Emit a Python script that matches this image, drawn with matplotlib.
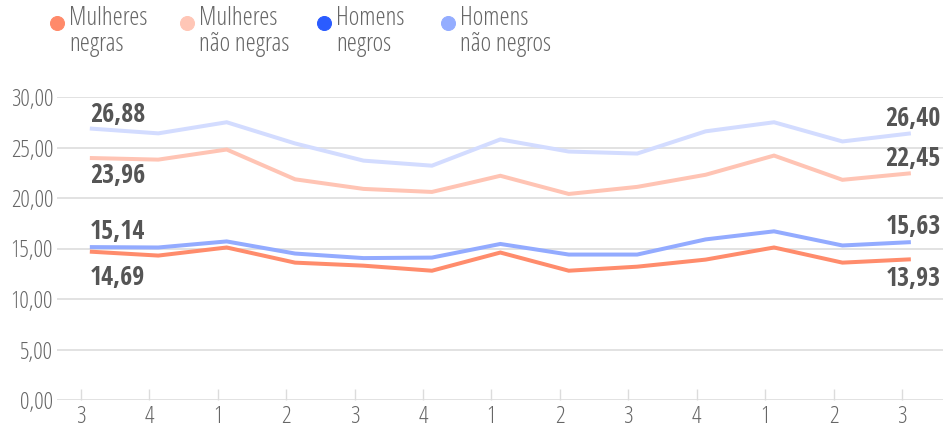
import matplotlib
matplotlib.use("Agg")
import os
import matplotlib.pyplot as plt
from matplotlib import font_manager as fm
from matplotlib.lines import Line2D

# ---------------- data ----------------
quarters = ["3", "4", "1", "2", "3", "4", "1", "2", "3", "4", "1", "2", "3"]
mulheres_negras = [14.69, 14.3, 15.1, 13.6, 13.3, 12.8, 14.6, 12.8, 13.2, 13.9, 15.1, 13.6, 13.93]
mulheres_nao_negras = [23.96, 23.8, 24.8, 21.85, 20.9, 20.6, 22.2, 20.4, 21.1, 22.3, 24.2, 21.8, 22.45]
homens_negros = [15.14, 15.1, 15.7, 14.5, 14.05, 14.1, 15.45, 14.4, 14.4, 15.9, 16.7, 15.3, 15.63]
homens_nao_negros = [26.88, 26.4, 27.5, 25.4, 23.7, 23.2, 25.8, 24.6, 24.4, 26.6, 27.5, 25.6, 26.40]
series_names = ["Mulheres\nnegras", "Mulheres\nnão negras", "Homens\nnegros", "Homens\nnão negros"]
yticks = [0, 5, 10, 15, 20, 25, 30]

# ---------------- fonts ----------------
def find_file(basenames, fallback_family, weight):
    for f in fm.fontManager.ttflist:
        if os.path.basename(f.fname) in basenames:
            return fm.FontProperties(fname=f.fname)
    return fm.FontProperties(family=fallback_family, weight=weight, stretch="condensed")

light = find_file(["OpenSans-CondLight.ttf", "RobotoCondensed-Light.ttf"], "Roboto Condensed", 300)
bold = find_file(["OpenSans-CondBold.ttf", "RobotoCondensed-Bold.ttf"], "Roboto Condensed", 700)

def fp(base, size):
    p = base.copy()
    p.set_size(size)
    return p

# ---------------- figure ----------------
fig = plt.figure(figsize=(943/72, 429/72), dpi=72)
ax = fig.add_axes([57/943, (429-400)/429, (943-57)/943, 303/429])

x = list(range(len(quarters)))
line_colors = ["#ff8c6c", "#ffc4b4", "#93abff", "#d3dcff"]
legend_colors = ["#ff8a6a", "#ffc6b6", "#2b5cff", "#94adff"]
data = [mulheres_negras, mulheres_nao_negras, homens_negros, homens_nao_negros]
order = [3, 1, 2, 0]
for i in order:
    ax.plot(x, data[i], color=line_colors[i], lw=4, solid_joinstyle="miter",
            solid_capstyle="butt", zorder=3 + (3 - i) * 0.1)

ax.set_ylim(0, 30)
ax.set_xlim(-0.48, 12.47)
ax.set_yticks(yticks)
ax.set_yticklabels([f"{v:.2f}".replace(".", ",") for v in yticks])
ax.grid(axis="y", color="#dcdcdc", lw=1.6, zorder=0)
ax.set_axisbelow(True)
for s in ax.spines.values():
    s.set_visible(False)
ax.tick_params(axis="y", length=0, pad=4, labelcolor="#666666")
for lab in ax.get_yticklabels():
    lab.set_fontproperties(fp(light, 23.5))

tick_off = -0.13
ax.set_xticks([xi + tick_off for xi in x])
ax.set_xticklabels(quarters)
ax.tick_params(axis="x", direction="in", length=11, width=1.4, color="#dcdcdc",
               pad=5, labelcolor="#666666")
for lab in ax.get_xticklabels():
    lab.set_fontproperties(fp(light, 24))

# value labels
lab_col = "#555555"
def vlabel(xi, yv, dy, ha):
    ax.annotate(f"{yv:.2f}".replace(".", ","), (xi, yv), xytext=(0, dy),
                textcoords="offset points", ha=ha, va="baseline",
                fontproperties=fp(bold, 26), color=lab_col, zorder=5)

vlabel(0, homens_nao_negros[0], 7, "left")
vlabel(0, mulheres_nao_negras[0], -25, "left")
vlabel(0, homens_negros[0], 8, "left")
vlabel(0, mulheres_negras[0], -33, "left")
xr = 12 + 30/68.4
vlabel(xr, homens_nao_negros[-1], 7, "right")
vlabel(xr, mulheres_nao_negras[-1], 7, "right")
vlabel(xr, homens_negros[-1], 8, "right")
vlabel(xr, mulheres_negras[-1], -27, "right")

# legend
leg_x = [57, 187, 324, 448]
for i in range(4):
    fig.add_artist(Line2D([leg_x[i]/943], [1 - 23/429], marker="o", ms=14,
                          color=legend_colors[i], lw=0, transform=fig.transFigure))
    fig.text((leg_x[i] + 12)/943, 1 - 6/429, series_names[i], ha="left", va="top",
             fontproperties=fp(light, 25.5), color="#666666", linespacing=1.05)

fig.savefig("out.png", dpi=72)
